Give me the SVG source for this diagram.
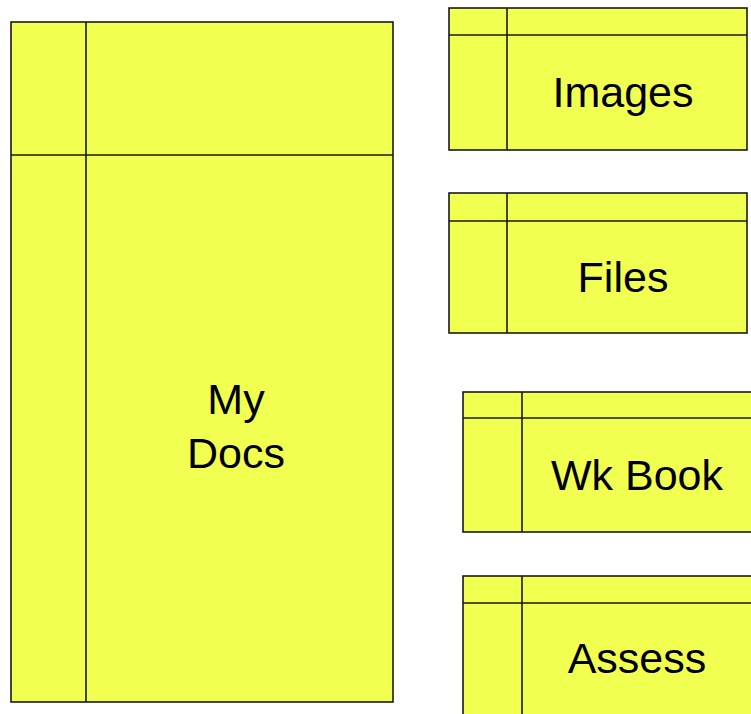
<svg xmlns="http://www.w3.org/2000/svg" width="751" height="714" viewBox="0 0 751 714">
<style>
.box{fill:#F0FF50;stroke:#1a1a1a;stroke-width:1.6}
.ln{stroke:#1a1a1a;stroke-width:1.6;fill:none}
.t{font-family:"Liberation Sans",Arial,sans-serif;font-size:43px;fill:#000;text-anchor:middle}
</style>
<rect width="751" height="714" fill="#fff"/>
<g id="mydocs">
<rect class="box" x="11" y="22" width="382" height="680"/>
<line class="ln" x1="86" y1="22" x2="86" y2="702"/>
<line class="ln" x1="11" y1="155" x2="393" y2="155"/>
<text class="t" x="236" y="414">My</text>
<text class="t" x="236" y="468">Docs</text>
</g>
<g id="images">
<rect class="box" x="449" y="8" width="298" height="142"/>
<line class="ln" x1="507" y1="8" x2="507" y2="150"/>
<line class="ln" x1="449" y1="35" x2="747" y2="35"/>
<text class="t" x="623" y="107">Images</text>
</g>
<g id="files">
<rect class="box" x="449" y="193" width="298" height="140"/>
<line class="ln" x1="507" y1="193" x2="507" y2="333"/>
<line class="ln" x1="449" y1="221" x2="747" y2="221"/>
<text class="t" x="623" y="292">Files</text>
</g>
<g id="wkbook">
<rect class="box" x="463" y="392" width="300" height="140"/>
<line class="ln" x1="522" y1="392" x2="522" y2="532"/>
<line class="ln" x1="463" y1="418" x2="763" y2="418"/>
<text class="t" x="637" y="490">Wk Book</text>
</g>
<g id="assess">
<rect class="box" x="463" y="576" width="300" height="160"/>
<line class="ln" x1="522" y1="576" x2="522" y2="736"/>
<line class="ln" x1="463" y1="603" x2="763" y2="603"/>
<text class="t" x="637" y="673">Assess</text>
</g>
<g id="connectors"></g>
</svg>
